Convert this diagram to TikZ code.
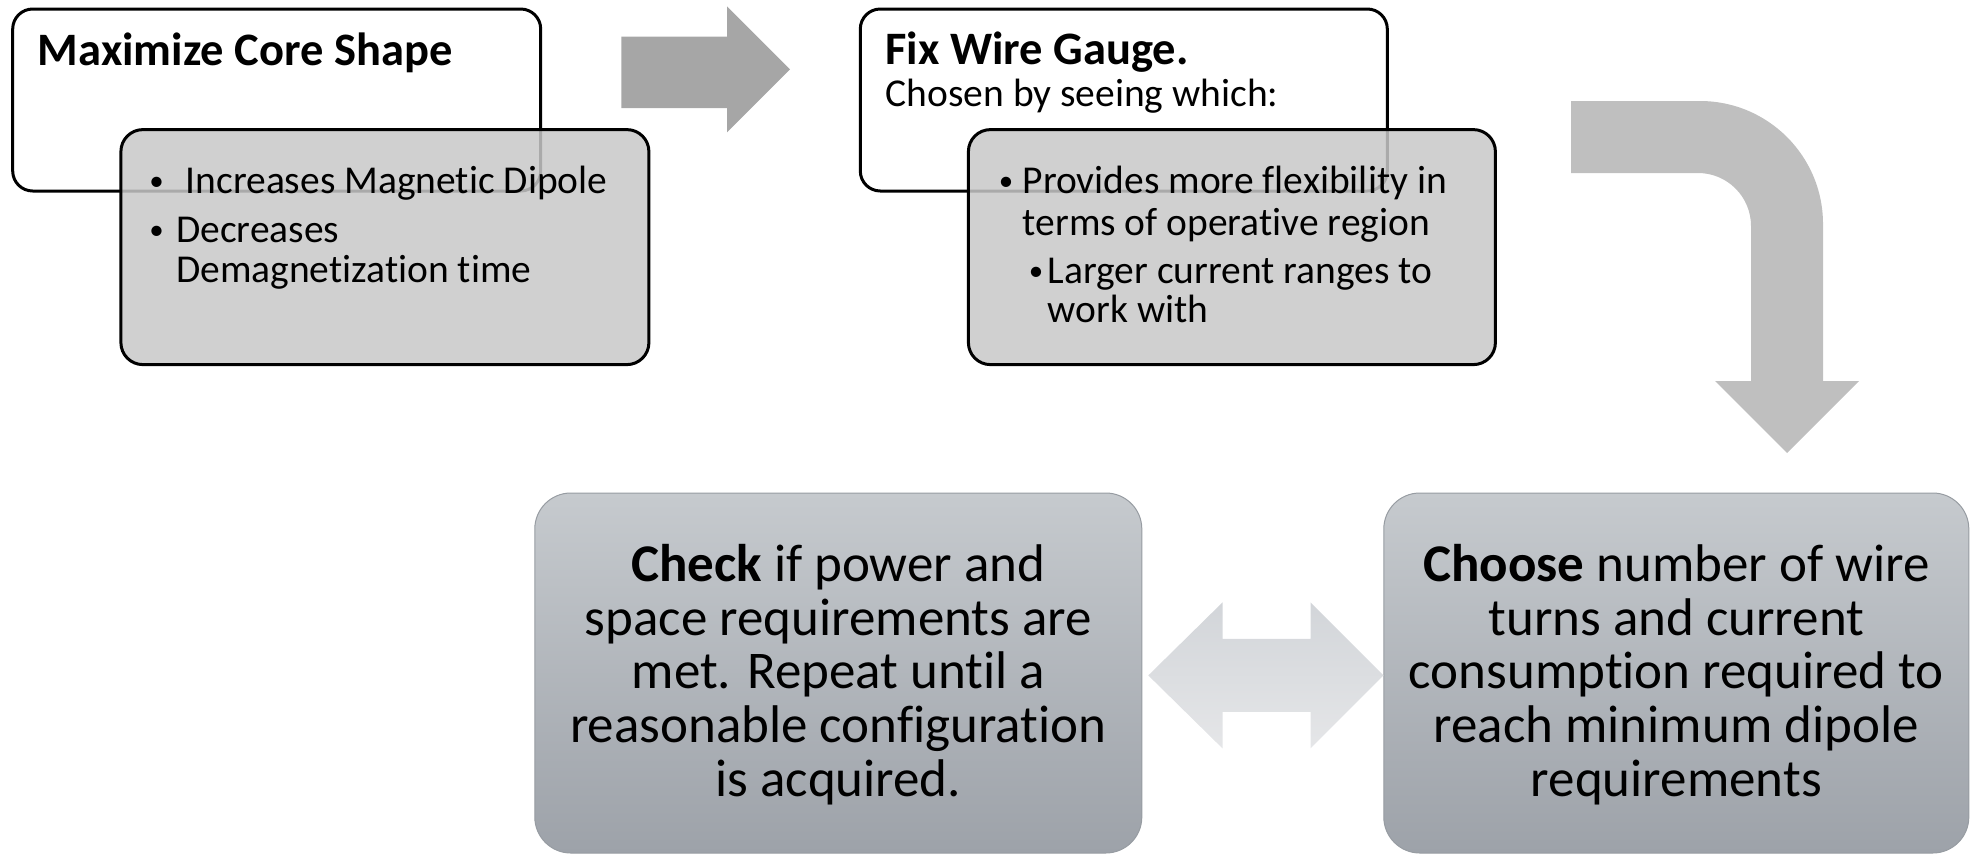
\documentclass[tikz,border=0pt]{standalone}
\usepackage{fontspec}
\setmainfont{Carlito}[Ligatures=NoCommon]
\definecolor{arrowA}{HTML}{A6A6A6}
\definecolor{arrowB}{HTML}{BFBFBF}
\definecolor{greyfill}{HTML}{C8C8C8}
\definecolor{gradtop}{HTML}{C6CACE}
\definecolor{gradbot}{HTML}{9DA2A9}
\definecolor{gradline}{HTML}{979CA2}
\definecolor{dbltop}{HTML}{D2D5D9}
\definecolor{dblbot}{HTML}{E5E6E8}
\begin{document}
\begin{tikzpicture}[x=1pt,y=1pt,
  topbox/.style={draw=black, line width=3pt, rounded corners=20pt, fill=white, inner sep=0pt},
  greybox/.style={draw=black, line width=3pt, rounded corners=22pt, fill=greyfill, fill opacity=0.85, inner sep=0pt},
  lowbox/.style={draw=gradline, line width=1pt, rounded corners=36pt, top color=gradtop, bottom color=gradbot, inner sep=0pt},
  headtxt/.style={anchor=base west, inner sep=0pt, font=\fontsize{46.5}{50}\selectfont\bfseries},
  bodytxt/.style={anchor=base west, inner sep=0pt, font=\fontsize{39.5}{44}\selectfont},
  bul/.style={anchor=base, inner sep=0pt, font=\fontsize{29}{30}\selectfont},
  bigtxt/.style={anchor=base, inner sep=0pt, font=\fontsize{53}{54}\selectfont},
  blockA/.style={fill=arrowA},
  blockB/.style={fill=arrowB},
  blockC/.style={top color=dbltop, bottom color=dblbot, draw=none}
]
\useasboundingbox (0,0) rectangle (1972,-855);

% top left pair
\node[topbox, minimum width=528pt, minimum height=182pt] (w1) at (276.7,-100) {};
\node[greybox, minimum width=528pt, minimum height=235pt] (g1) at (384.9,-247.1) {};
\node[headtxt] (h1) at (37.7,-65.4) {Maximize Core Shape};
\node[bul] (b11) at (156.6,-190.7) {•};
\node[bodytxt] (l11) at (185.5,-193.7) {Increases Magnetic Dipole};
\node[bul] (b12) at (156.6,-239.7) {•};
\node[bodytxt] (l12) at (176,-242.7) {Decreases};
\node[bodytxt] (l13) at (176,-282) {Demagnetization time};

% top middle pair
\node[topbox, minimum width=527pt, minimum height=182pt] (w2) at (1123.8,-100) {};
\node[greybox, minimum width=527pt, minimum height=235pt] (g2) at (1231.9,-247.1) {};
\node[headtxt] (h2) at (885.4,-64.1) {Fix Wire Gauge.};
\node[bodytxt] (h2b) at (885.4,-106.5) {Chosen by seeing which:};
\node[bul] (b21) at (1006,-190.7) {•};
\node[bodytxt] (l21) at (1022.5,-193.7) {Provides more flexibility in};
\node[bodytxt] (l22) at (1022.5,-235) {terms of operative region};
\node[bul] (b22) at (1036,-280) {•};
\node[bodytxt] (l23) at (1047.6,-283) {Larger current ranges to};
\node[bodytxt] (l24) at (1047.6,-322) {work with};

% bottom boxes
\node[lowbox, minimum width=607pt, minimum height=360pt] (chk) at (838.3,-673) {};
\node[lowbox, minimum width=585pt, minimum height=360pt] (cho) at (1676.3,-673) {};

\node[bigtxt] (c1) at (838.3,-581) {\textbf{Check} if power and};
\node[bigtxt] (c2) at (838.3,-635) {space requirements are};
\node[bigtxt] (c3) at (838.3,-688) {met. Repeat until a};
\node[bigtxt] (c4) at (838.3,-742) {reasonable configuration};
\node[bigtxt] (c5) at (838.3,-796) {is acquired.};

\node[bigtxt] (d1) at (1676.3,-581) {\textbf{Choose} number of wire};
\node[bigtxt] (d2) at (1676.3,-635) {turns and current};
\node[bigtxt] (d3) at (1676.3,-688) {consumption required to};
\node[bigtxt] (d4) at (1676.3,-742) {reach minimum dipole};
\node[bigtxt] (d5) at (1676.3,-796) {requirements};

% block arrow right
\path[blockA] (621.3,-36.5) -- (727,-36.5) -- (727,-6.3) -- (790,-69.3) -- (727,-132.3)
  -- (727,-108.2) -- (621.3,-108.2) -- cycle;

% bent arrow
\path[blockB] (1571,-101) -- (1700,-101) arc[start angle=90, end angle=0, radius=123]
  -- (1823,-381) -- (1859,-381) -- (1787,-453) -- (1715,-381) -- (1751,-381)
  -- (1751,-226) arc[start angle=0, end angle=90, radius=53] -- (1571,-173) -- cycle;

% double arrow
\path[blockC] (1148.3,-675.4) -- (1222.5,-602.4) -- (1222.5,-638.9) -- (1310.5,-638.9)
  -- (1310.5,-602.4) -- (1383.5,-675.4) -- (1310.5,-748.4) -- (1310.5,-711.9)
  -- (1222.5,-711.9) -- (1222.5,-748.4) -- cycle;
\end{tikzpicture}
\end{document}
